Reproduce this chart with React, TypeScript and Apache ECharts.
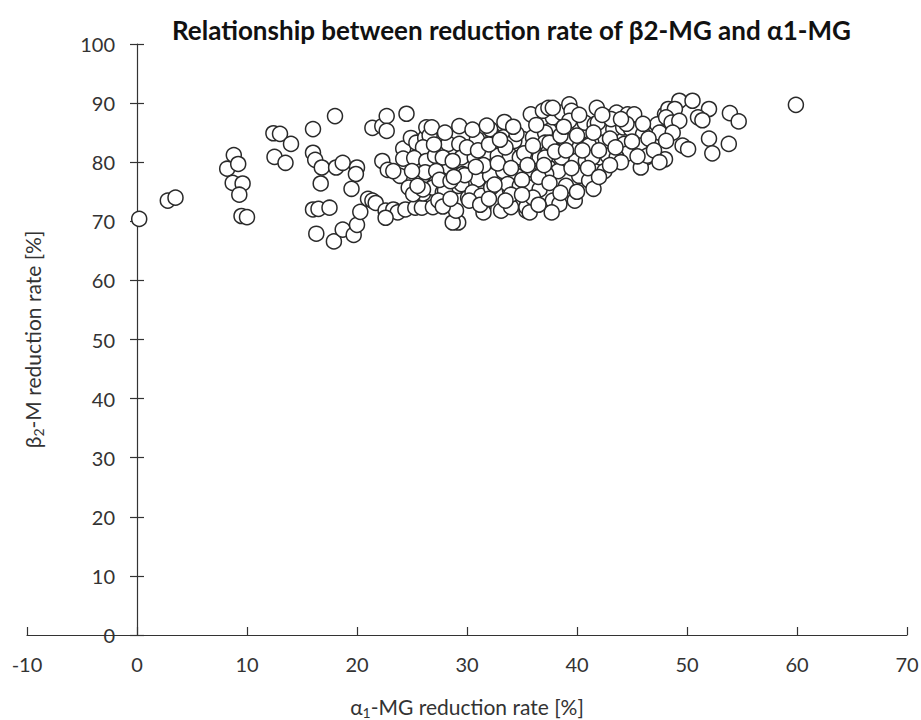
import React, { useEffect, useRef } from "react";
import * as echarts from "echarts";

const titleText = "Relationship between reduction rate of β2-MG and α1-MG";
const xTicks = { min: -10, max: 70, interval: 10 };
const yTicks = { min: 0, max: 100, interval: 10 };

// α1-MG reduction rate [%]
const alphaRate: number[] = [
  0.2, 2.8, 3.5, 8.2, 8.8, 9.2, 8.7, 9.6, 9.3, 9.5, 10.0,
  12.4, 13.0, 14.0, 12.5, 13.5, 16.0, 18.0,
  16.0, 16.2, 16.8, 16.7, 18.1, 18.7, 20.0, 19.9, 19.5,
  16.0, 16.5, 17.5, 16.3, 17.9, 18.7, 19.7, 20.0, 20.3,
  21.0, 21.4, 21.7, 22.6, 23.3, 23.7, 22.6,
  21.4, 22.3, 22.7, 22.7, 22.3, 22.8, 24.4, 25.3, 25.9, 24.5,
  24.2, 24.2, 23.9, 24.7, 24.9, 25.4, 25.3, 26.0, 26.2, 26.0, 26.3,
  26.3, 26.6, 26.0, 25.2, 23.3, 26.0, 26.9, 27.8, 27.8, 28.3, 29.3, 29.5, 28.4, 29.2,
  30.1, 30.2, 30.9, 30.9, 31.2, 32.4, 33.4, 32.4, 33.3, 31.8, 31.5, 33.1, 34.0, 35.4,
  35.5, 33.9, 34.8, 34.0, 34.6, 35.1, 35.8, 36.3, 35.8, 37.5, 37.8, 38.6, 39.3, 39.5,
  39.0, 37.8, 37.4, 38.3, 37.8, 38.4, 39.8, 39.0, 40.2, 39.9, 38.6, 40.7, 41.8, 41.6,
  42.7, 43.6, 43.3, 44.2, 44.3, 42.4, 41.3, 40.8, 42.1, 41.4, 43.3, 44.6, 44.5,
  29.2, 28.7, 26.9, 25.1, 29.3,
  36.9, 37.4, 26.8, 32.1, 33.3, 34.3, 36.0, 37.1, 37.1,
  26.3, 27.1, 27.8, 28.7, 30.7, 31.6, 32.8, 33.9, 34.8, 35.7, 36.6, 37.4,
  26.2, 27.2, 29.6, 31.0, 32.1, 33.3, 34.5, 36.9,
  26.0, 28.0, 29.5, 30.5, 31.3, 32.2, 33.7, 34.8, 35.7, 36.6,
  27.4, 29.0, 30.2, 31.5, 35.4, 35.7,
  37.8, 45.2, 48.0, 48.3, 39.3, 41.9, 43.1, 44.9, 46.0, 47.3, 47.8,
  37.5, 39.0, 41.1, 45.7, 46.9, 48.1,
  37.1, 41.4, 42.8, 46.3, 45.8, 48.0, 37.2, 41.1, 37.7,
  49.3, 50.5, 48.9, 52.0, 51.0, 51.4, 53.9, 54.7, 48.1, 48.6, 49.3, 47.5, 48.7,
  48.1, 49.6, 50.1, 52.0, 53.8, 52.3, 59.9, 46.4, 43.6,
  30.0, 31.0, 31.5, 32.0, 32.8, 33.5, 34.0, 34.5, 35.2, 35.5, 36.0, 36.5, 37.0,
  38.0, 38.5, 39.0, 39.5, 40.0, 40.5, 41.0, 41.5, 42.0, 42.5, 43.0, 43.5, 44.0,
  44.5, 45.0, 45.5, 46.0, 46.5, 47.0, 47.5, 30.5, 31.8, 33.0, 34.2, 36.3, 38.8,
  40.2, 42.3, 44.0, 29.8, 30.8, 32.5, 34.0, 35.0, 36.0, 37.5, 38.5, 40.0, 41.5,
  42.0, 43.0, 27.5, 28.5, 27.0, 28.0, 28.8, 31.2, 32.0, 33.5, 35.0, 36.5, 27.8,
  28.5, 25.5, 25.0,
];

// β2-M reduction rate [%]
const beta2Rate: number[] = [
  70.4, 73.5, 74.0, 78.9, 81.2, 79.7, 76.5, 76.4, 74.5, 70.9, 70.7,
  84.9, 84.8, 83.1, 80.9, 79.9, 85.6, 87.8,
  81.6, 80.4, 79.1, 76.4, 79.1, 79.9, 79.1, 78.0, 75.5,
  72.0, 72.1, 72.3, 67.9, 66.6, 68.6, 67.7, 69.4, 71.6,
  73.8, 73.5, 73.1, 71.8, 72.0, 71.5, 70.6,
  85.8, 86.1, 87.8, 85.3, 80.2, 78.7, 72.0, 72.3, 72.3, 88.2,
  82.3, 80.6, 77.7, 75.7, 84.1, 83.3, 78.5, 79.9, 84.1, 74.7, 76.9,
  85.9, 84.5, 82.5, 80.7, 78.5, 77.7, 75.7, 74.9, 78.5, 83.1, 83.1, 80.8, 79.1, 76.0,
  74.0, 76.6, 78.5, 83.9, 80.2, 84.5, 86.8, 81.9, 80.2, 77.1, 72.4, 71.8, 72.4, 71.8,
  73.5, 75.4, 78.0, 80.5, 82.8, 83.9, 88.1, 81.9, 78.8, 85.3, 87.6, 88.4, 89.8, 88.7,
  85.3, 82.2, 79.1, 78.5, 73.5, 72.9, 73.5, 76.0, 77.7, 80.2, 80.8, 86.7, 89.2, 86.4,
  87.6, 88.4, 85.6, 85.9, 83.1, 83.3, 83.3, 80.2, 80.8, 77.1, 81.1, 88.1, 81.4,
  69.8, 69.8, 72.4, 74.6, 86.1,
  88.7, 89.2, 85.9, 85.6, 84.2, 83.6, 84.2, 85.0, 83.3,
  80.2, 81.1, 80.8, 80.2, 80.8, 81.4, 81.1, 81.1, 80.8, 80.2, 80.8, 81.7,
  78.3, 78.5, 78.0, 77.1, 77.7, 78.5, 77.7, 78.5,
  75.4, 75.2, 76.3, 74.9, 74.3, 75.7, 76.3, 76.0, 75.7, 75.4,
  73.5, 71.8, 73.5, 71.5, 72.4, 71.5,
  89.2, 88.1, 88.1, 89.0, 87.0, 86.7, 87.3, 85.6, 84.7, 86.4, 85.0,
  83.3, 83.6, 82.8, 82.8, 83.6, 84.2,
  80.8, 80.8, 81.1, 80.8, 79.1, 80.5, 78.0, 76.9, 71.5,
  90.4, 90.4, 89.0, 89.0, 87.6, 87.1, 88.3, 86.9, 87.6, 86.7, 87.0, 85.0, 85.0,
  83.6, 82.8, 82.2, 84.0, 83.1, 81.5, 89.7, 81.1, 80.8,
  82.5, 82.0, 79.5, 83.0, 79.8, 82.5, 79.0, 84.8, 81.5, 79.5, 82.8, 77.5, 79.5,
  81.8, 84.5, 82.0, 79.0, 84.5, 82.0, 79.0, 85.0, 82.0, 78.5, 84.0, 82.5, 80.0,
  86.5, 83.5, 81.0, 86.5, 84.0, 82.0, 80.0, 85.5, 86.2, 83.8, 86.0, 86.3, 86.0,
  88.0, 88.0, 87.3, 77.8, 79.2, 76.2, 74.5, 77.0, 74.0, 76.5, 74.8, 75.0, 75.5,
  77.5, 79.5, 77.0, 76.8, 83.0, 85.0, 77.5, 72.8, 73.8, 73.5, 74.5, 72.8, 72.5,
  73.8, 76.0, 78.5,
];

const FONT = "Lato";
const INK = "#333";

const GRID = { left: 27, right: 14, top: 44, bottom: 85 };
const WIDTH = 921;
const HEIGHT = 720;

export default function App() {
  const ref = useRef<HTMLDivElement>(null);
  useEffect(() => {
    document.body.style.margin = "0";
    const chart = echarts.init(ref.current!, null, { renderer: "svg" });
    const points = alphaRate.map((x, i) => [x, beta2Rate[i]]);
    // shift the y axis from the grid's left edge to where x = 0 lies
    const plotW = WIDTH - GRID.left - GRID.right;
    const yAxisOffset = -((0 - xTicks.min) / (xTicks.max - xTicks.min)) * plotW;
    const nameRich = {
      n: { fontFamily: FONT, fontSize: 21, color: INK, lineHeight: 26 },
      s: { fontFamily: FONT, fontSize: 14, color: INK, lineHeight: 15, verticalAlign: "bottom" },
    };
    chart.setOption({
      animation: false,
      backgroundColor: "#fff",
      title: {
        text: titleText,
        left: 167,
        top: 12,
        textStyle: { fontFamily: FONT, fontWeight: "bold", fontSize: 26, color: "#111" },
      },
      grid: { ...GRID, containLabel: false, outerBoundsMode: "none" },
      xAxis: {
        type: "value",
        min: xTicks.min,
        max: xTicks.max,
        interval: xTicks.interval,
        name: "{n|α}{s|1}{n|-MG reduction rate [%]}",
        nameLocation: "middle",
        nameGap: 58,
        nameTextStyle: { rich: nameRich },
        axisLine: { onZero: false, lineStyle: { color: INK, width: 1.2 } },
        axisTick: { inside: true, length: 8, lineStyle: { color: INK, width: 1.2 } },
        axisLabel: { fontFamily: FONT, fontSize: 20, color: INK, margin: 19 },
        splitLine: { show: false },
      },
      yAxis: [
        {
          type: "value",
          min: yTicks.min,
          max: yTicks.max,
          interval: yTicks.interval,
          offset: yAxisOffset,
          name: "{n|β}{s|2}{n|-M reduction rate [%]}",
          nameLocation: "middle",
          nameGap: 92,
          nameTextStyle: { rich: nameRich },
          axisLine: { show: true, onZero: false, lineStyle: { color: INK, width: 1.2 } },
          axisTick: { show: true, inside: false, length: 7, lineStyle: { color: INK, width: 1.2 } },
          axisLabel: { fontFamily: FONT, fontSize: 20, color: INK, margin: 22 },
          splitLine: { show: false },
        },
        {
          type: "value",
          position: "left",
          min: yTicks.min,
          max: yTicks.max,
          interval: yTicks.interval,
          offset: yAxisOffset,
          axisLine: { show: false, onZero: false },
          axisTick: { show: true, inside: true, length: 7, lineStyle: { color: INK, width: 1.2 } },
          axisLabel: { show: false },
          splitLine: { show: false },
        },
      ],
      series: [
        {
          type: "scatter",
          data: points,
          symbol: "circle",
          symbolSize: 15,
          itemStyle: { color: "#fff", borderColor: "#2a2a2a", borderWidth: 1.5, opacity: 1 },
        },
      ],
    });
    return () => chart.dispose();
  }, []);
  return <div ref={ref} style={{ width: WIDTH, height: HEIGHT }} />;
}
